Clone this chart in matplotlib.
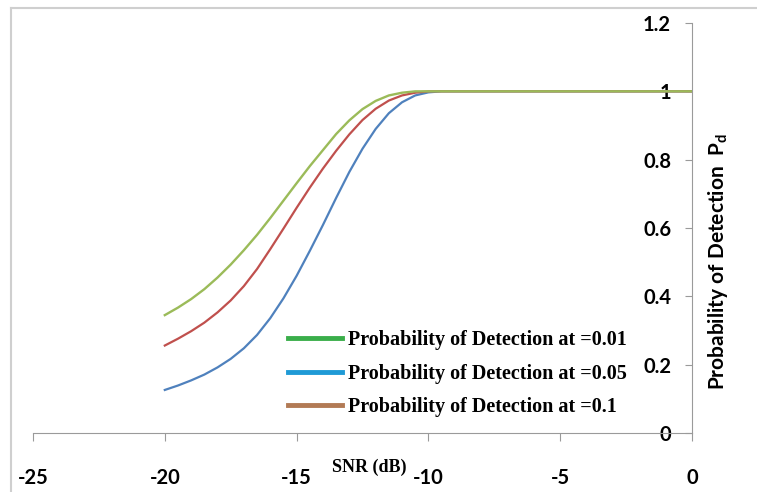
import matplotlib
matplotlib.use("Agg")
import matplotlib.pyplot as plt
from matplotlib.lines import Line2D

# ---- data ----
snr_db = [-20, -19.5, -19, -18.5, -18, -17.5, -17, -16.5, -16, -15.5, -15,
          -14.5, -14, -13.5, -13, -12.5, -12, -11.5, -11, -10.5, -10, -9.5,
          -9, -8, -7, -6, -5, -4, -3, -2, -1, 0]

pd_green = [0.345, 0.367, 0.392, 0.421, 0.455, 0.493, 0.535, 0.580, 0.629, 0.680, 0.731,
            0.781, 0.828, 0.875, 0.915, 0.948, 0.972, 0.988, 0.996, 1.0, 1.0, 1.0,
            1.0, 1.0, 1.0, 1.0, 1.0, 1.0, 1.0, 1.0, 1.0, 1.0]
pd_red = [0.256, 0.276, 0.298, 0.323, 0.353, 0.388, 0.430, 0.480, 0.538, 0.598, 0.659,
          0.718, 0.774, 0.826, 0.874, 0.916, 0.949, 0.973, 0.988, 0.996, 1.0, 1.0,
          1.0, 1.0, 1.0, 1.0, 1.0, 1.0, 1.0, 1.0, 1.0, 1.0]
pd_blue = [0.126, 0.139, 0.154, 0.171, 0.192, 0.217, 0.248, 0.287, 0.336, 0.394, 0.460,
           0.533, 0.609, 0.688, 0.764, 0.832, 0.890, 0.936, 0.968, 0.988, 0.997, 1.0,
           1.0, 1.0, 1.0, 1.0, 1.0, 1.0, 1.0, 1.0, 1.0, 1.0]

legend_labels = ["Probability of Detection at =0.01",
                 "Probability of Detection at =0.05",
                 "Probability of Detection at =0.1"]
x_ticks = [-25, -20, -15, -10, -5, 0]
y_ticks = [0, 0.2, 0.4, 0.6, 0.8, 1, 1.2]
y_tick_labels = ["0", "0.2", "0.4", "0.6", "0.8", "1", "1.2"]

# ---- figure ----
W, H = 757, 492
fig = plt.figure(figsize=(W / 100, H / 100), dpi=100)
ax = fig.add_axes([33 / W, (H - 433) / H, 659 / W, 410 / H])

ax.plot(snr_db, pd_blue, color="#4F81BD", lw=1.6)
ax.plot(snr_db, pd_red, color="#C0504D", lw=1.6)
ax.plot(snr_db, pd_green, color="#9BBB59", lw=1.7)

ax.set_xlim(-25, 0)
ax.set_ylim(0, 1.2)

for s in ["top", "right"]:
    ax.spines[s].set_visible(False)
ax.spines["left"].set_position(("data", 0))
ax.spines["left"].set_color("#9A9A9A")
ax.spines["bottom"].set_color("#9A9A9A")

tick_font = dict(family=["Lato", "DejaVu Sans"], weight="bold", size=14.5)
ax.set_xticks(x_ticks)
ax.set_xticklabels([str(v) for v in x_ticks], **tick_font)
ax.set_yticks(y_ticks)
ax.set_yticklabels(y_tick_labels, **tick_font)
ax.tick_params(axis="x", direction="out", length=6, pad=19, color="#9A9A9A")
ax.tick_params(axis="y", direction="out", length=5, pad=10, color="#9A9A9A")

ax.text(-12.25, -0.10, "SNR (dB)", family="Liberation Serif", weight="bold",
        size=13, ha="center", va="center", clip_on=False)
ax.text(1.0, 0.503, r"Probability of Detection  P$_\mathregular{d}$",
        family=["Lato", "DejaVu Sans"], weight="bold", size=15,
        rotation=90, ha="center", va="center", clip_on=False)

handles = [Line2D([], [], color="#3AAE4A", lw=3.5),
           Line2D([], [], color="#1F9AD6", lw=3.5),
           Line2D([], [], color="#B27A55", lw=3.5)]
leg = ax.legend(handles, legend_labels, loc="upper left",
                bbox_to_anchor=(0.387, 0.250), frameon=False,
                prop=dict(family="Liberation Serif", weight="bold", size=14.5),
                handlelength=2.7, handletextpad=0.3, labelspacing=0.66,
                borderaxespad=0, borderpad=0)

# outer chart border (left and top)
fig.add_artist(Line2D([11 / W, 11 / W], [0, 1 - 8 / H], color="#CFCFCF", lw=1.5))
fig.add_artist(Line2D([11 / W, 1], [1 - 8 / H, 1 - 8 / H], color="#CFCFCF", lw=1.5))

fig.savefig("out.png", dpi=100)
